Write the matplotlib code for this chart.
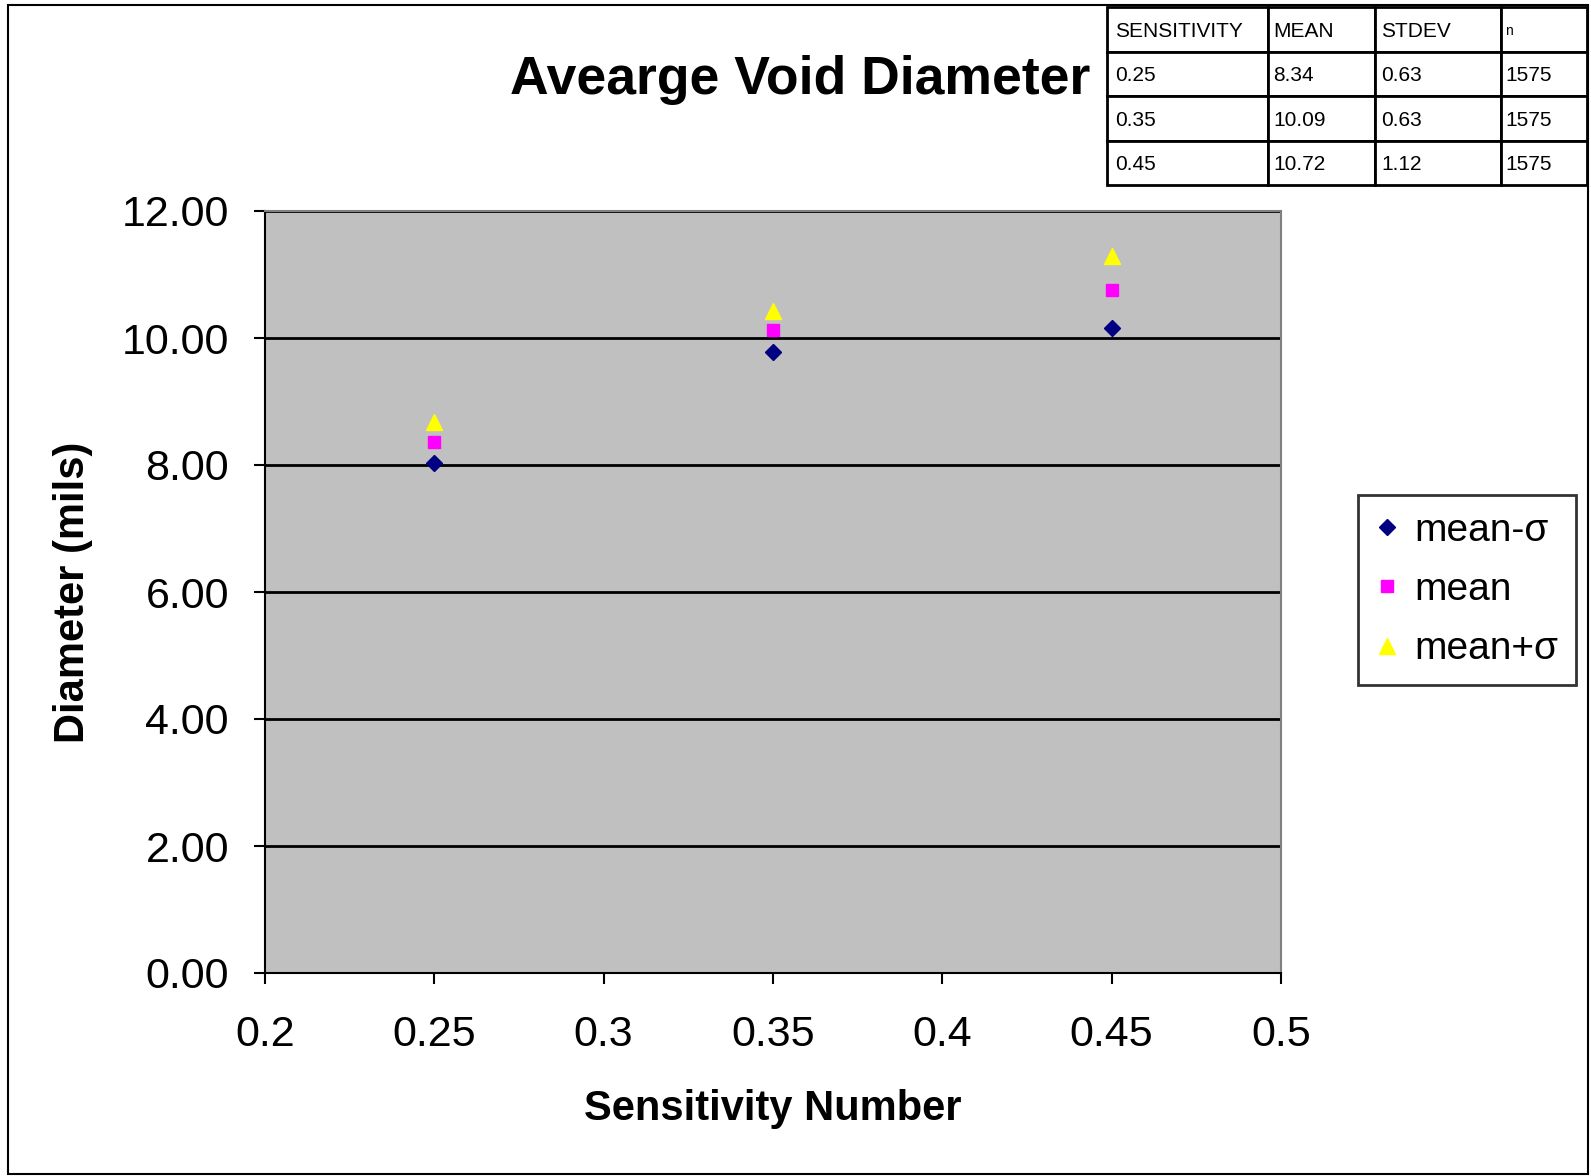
import matplotlib
matplotlib.use("Agg")
import matplotlib.pyplot as plt
from matplotlib.patches import Rectangle

plt.rcParams['font.family'] = ['Liberation Sans', 'DejaVu Sans']

# data
sens = [0.25, 0.35, 0.45]
mean_lo = [8.03, 9.78, 10.15]
mean_val = [8.36, 10.12, 10.76]
mean_hi = [8.68, 10.42, 11.29]

# summary table in the corner
tab_head = ["SENSITIVITY", "MEAN", "STDEV", "n"]
tab_rows = [["0.25", "8.34", "0.63", "1575"],
            ["0.35", "10.09", "0.63", "1575"],
            ["0.45", "10.72", "1.12", "1575"]]

W, H = 1591, 1176
fig = plt.figure(figsize=(W/100, H/100), dpi=100)

# outer frame of the chart
fig.patches.append(Rectangle((8/W, 2/H), 1580/W, 1169/H, transform=fig.transFigure,
                             fill=False, edgecolor='black', linewidth=1.5))

ax = fig.add_axes([265/W, 1-973/H, 1016/W, 762/H])
ax.set_facecolor('#c0c0c0')

ax.plot(sens, mean_lo, linestyle='none', marker='D', color='#000080', ms=8, label='mean-σ', zorder=3)
ax.plot(sens, mean_val, linestyle='none', marker='s', color='#ff00ff', ms=9, label='mean', zorder=3)
ax.plot(sens, mean_hi, linestyle='none', marker='^', color='#ffff00', ms=11, label='mean+σ', zorder=3)

ax.set_xlim(0.2, 0.5)
ax.set_ylim(0, 12)
ax.set_xticks([0.2, 0.25, 0.3, 0.35, 0.4, 0.45, 0.5])
ax.set_xticklabels(["0.2", "0.25", "0.3", "0.35", "0.4", "0.45", "0.5"])
ax.set_yticks(range(0, 13, 2))
ax.set_yticklabels(["%.2f" % v for v in range(0, 13, 2)])
ax.tick_params(axis='both', labelsize=31, length=8, width=1.5, direction='out')
ax.tick_params(axis='y', pad=18)
ax.tick_params(axis='x', pad=22)
ax.grid(axis='y', color='black', linewidth=2)
ax.set_axisbelow(True)
for s in ['top', 'right']:
    ax.spines[s].set_color('#808080')
    ax.spines[s].set_linewidth(1.5)
for s in ['left', 'bottom']:
    ax.spines[s].set_linewidth(1.5)

ax.set_xlabel("Sensitivity Number", fontsize=30, fontweight='bold')
ax.xaxis.label.set_va('center')
ax.xaxis.set_label_coords(0.5, -0.178)
ax.set_ylabel("Diameter (mils)", fontsize=30, fontweight='bold')
ax.yaxis.label.set_va('center')
ax.yaxis.set_label_coords(-0.189, 0.5)

fig.text(800/W, 1-80/H, "Avearge Void Diameter", fontsize=38.5, fontweight='bold',
         ha='center', va='center')

leg = fig.legend(loc='center left', bbox_to_anchor=(1358/W, 1-590/H), fontsize=28,
                 frameon=True, fancybox=False, edgecolor='black', handlelength=0.6,
                 handletextpad=0.4, labelspacing=0.6, borderpad=0.45, borderaxespad=0)
leg.get_frame().set_linewidth(2)

# table
tax = fig.add_axes([1107/W, 1-185/H, 480/W, 178/H])
tax.axis('off')
tbl = tax.table(cellText=[tab_head] + tab_rows, bbox=[0, 0, 1, 1],
                colWidths=[161, 107, 126, 86], cellLoc='left')
tbl.auto_set_font_size(False)
for (r, c), cell in tbl.get_celld().items():
    cell.set_linewidth(2)
    cell.set_edgecolor('black')
    cell.PAD = 0.05
    txt = cell.get_text()
    txt.set_fontsize(15 if c < 3 or r > 0 else 10)
    txt.set_va('center_baseline')

fig.savefig("out.png", dpi=100)
